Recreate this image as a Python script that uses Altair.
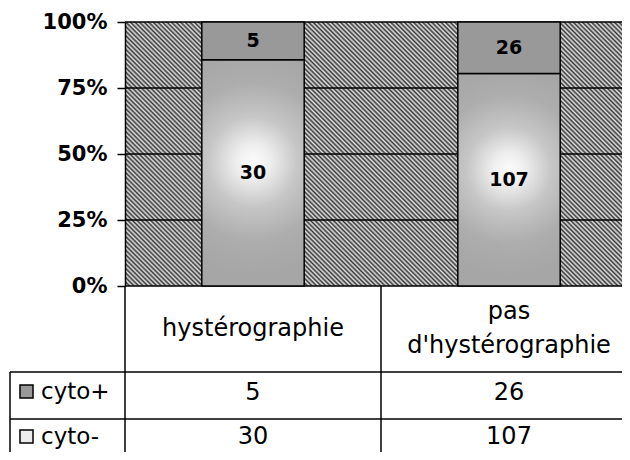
import altair as alt
import pandas as pd

# ---- data ----
categories = ["hystérographie", "pas d'hystérographie"]
header_labels = ["hystérographie", "pas\nd'hystérographie"]
series = ["cyto+", "cyto-"]
cyto_plus = [5, 26]
cyto_minus = [30, 107]
y_ticks = [0, 0.25, 0.5, 0.75, 1]

W, H = 497, 264
XR = 512  # full band range (two equal columns, right one runs off the edge)
FONT = "DejaVu Sans"

rows = []
for i, c in enumerate(categories):
    rows.append({"cat": c, "series": "cyto-", "value": cyto_minus[i], "order": 0})
    rows.append({"cat": c, "series": "cyto+", "value": cyto_plus[i], "order": 1})
df = pd.DataFrame(rows)

# header text, one row per printed line, centred in the header row
Y_HDR_MID = -43 / H
LINE = 34 / H
hdr_rows = []
for c, lab in zip(categories, header_labels):
    parts = lab.split("\n")
    n = len(parts)
    for j, p in enumerate(parts):
        hdr_rows.append({"cat": c, "line": p, "yl": Y_HDR_MID + ((n - 1) / 2 - j) * LINE})
hdr = pd.DataFrame(hdr_rows)
cats = pd.DataFrame({"cat": categories})
ticks = pd.DataFrame({"t": y_ticks})
one = pd.DataFrame({"a": [0]})

xscale = alt.Scale(domain=categories, range=[0, XR], paddingInner=0, paddingOuter=0)
yscale = alt.Scale(domain=[0, 1], nice=False, zero=False)

# hatch: dense diagonal stripes as a linear gradient
N = 170
stops = []
for i in range(N):
    stops.append(alt.GradientStop(color="#363636", offset=i / N))
    stops.append(alt.GradientStop(color="#e4e4e4", offset=(i + 0.5) / N))
stops.append(alt.GradientStop(color="#363636", offset=1.0))
k2 = H / XR
L = (1 + k2) / (1 + k2 * k2)
hatch_grad = alt.LinearGradient(gradient="linear", stops=stops,
                                x1=0, y1=1, x2=L, y2=1 - k2 * L)

glow = alt.RadialGradient(
    gradient="radial",
    stops=[
        alt.GradientStop(color="#fcfcfc", offset=0),
        alt.GradientStop(color="#eeeeee", offset=0.15),
        alt.GradientStop(color="#c6c6c6", offset=0.4),
        alt.GradientStop(color="#adadad", offset=0.7),
        alt.GradientStop(color="#a6a6a6", offset=1),
    ],
    x1=0.5, y1=0.45, r1=0, x2=0.5, y2=0.45, r2=0.5,
)

hatch = alt.Chart(one).mark_rect(fill=hatch_grad).encode(
    x=alt.value(0), x2=alt.value(XR),
    y=alt.Y(datum=1, scale=yscale), y2=alt.datum(0),
)

grid = alt.Chart(ticks).mark_rule(color="black", strokeWidth=1.5).encode(
    x=alt.value(0), x2=alt.value(XR),
    y=alt.Y("t:Q", scale=yscale, axis=alt.Axis(
        values=y_ticks, format="%", labelFont=FONT, labelFontWeight="bold",
        labelFontSize=21, labelColor="black", tickColor="black", tickSize=8,
        tickWidth=1.5, domainColor="black", domainWidth=1.5, grid=False,
        title=None, labelPadding=10, zindex=1)),
)

base = alt.Chart(df).transform_joinaggregate(
    total="sum(value)", groupby=["cat"]
).transform_calculate(
    frac="datum.value / datum.total"
).transform_stack(
    stack="frac", groupby=["cat"], as_=["y0", "y1"],
    sort=[alt.SortField("order", order="ascending")]
).transform_calculate(
    ymid="(datum.y0 + datum.y1) / 2"
)

xenc = alt.X("cat:N", scale=xscale, axis=None, sort=categories)

bars_minus = base.transform_filter(alt.datum.series == "cyto-").mark_bar(
    fill=glow, stroke="black", strokeWidth=1.5, width=alt.RelativeBandSize(0.4)
).encode(x=xenc, y=alt.Y("y1:Q", scale=yscale), y2="y0:Q")

bars_plus = base.transform_filter(alt.datum.series == "cyto+").mark_bar(
    stroke="black", strokeWidth=1.5, width=alt.RelativeBandSize(0.4)
).encode(
    x=xenc, y=alt.Y("y1:Q", scale=yscale), y2="y0:Q",
    color=alt.Color("series:N", scale=alt.Scale(domain=series, range=["#999999", "#ececec"]),
                    legend=alt.Legend(orient="none", legendX=-110, legendY=358, title=None,
                                      symbolType="square", symbolSize=170,
                                      symbolStrokeColor="black", symbolStrokeWidth=1.5,
                                      labelFont=FONT, labelFontSize=23, labelColor="black",
                                      rowPadding=21, labelOffset=3, padding=0)),
)

bar_labels = base.mark_text(font=FONT, fontWeight="bold", fontSize=19, color="black").encode(
    x=xenc, y=alt.Y("ymid:Q", scale=yscale), text="value:Q"
)

# table
Y_HDR_BOT = -86 / H
Y_ROW1_BOT = -133 / H
Y_BOTTOM = -185 / H
Y_ROW1_MID = -107 / H
Y_ROW2_MID = -151 / H

hlines = alt.Chart(pd.DataFrame({"y": [Y_HDR_BOT, Y_ROW1_BOT]})).mark_rule(
    color="black", strokeWidth=1.5).encode(
    x=alt.value(-115), x2=alt.value(XR), y=alt.Y("y:Q", scale=yscale))

vlines = alt.Chart(cats).mark_rule(color="black", strokeWidth=1.5).encode(
    x=alt.X("cat:N", scale=xscale, axis=None, sort=categories, bandPosition=0),
    y=alt.datum(0), y2=alt.datum(Y_BOTTOM))

leftline = alt.Chart(one).mark_rule(color="black", strokeWidth=1.5).encode(
    x=alt.value(-115), y=alt.datum(Y_HDR_BOT), y2=alt.datum(Y_BOTTOM))

hdr_text = alt.Chart(hdr).mark_text(font=FONT, fontSize=24, color="black").encode(
    x=xenc, y=alt.Y("yl:Q", scale=yscale), text="line:N")

plus_text = alt.Chart(df[df.series == "cyto+"]).mark_text(font=FONT, fontSize=24, color="black").encode(
    x=xenc, y=alt.datum(Y_ROW1_MID), text="value:Q")
minus_text = alt.Chart(df[df.series == "cyto-"]).mark_text(font=FONT, fontSize=24, color="black").encode(
    x=xenc, y=alt.datum(Y_ROW2_MID), text="value:Q")

chart = alt.layer(
    hatch, grid, bars_minus, bars_plus, bar_labels,
    hlines, vlines, leftline, hdr_text, plus_text, minus_text
).properties(
    width=W, height=H,
    autosize=alt.AutoSizeParams(type="none"),
    padding={"left": 117, "top": 14, "right": 0, "bottom": 166},
    background="white",
).configure_view(stroke=None)

chart.save("out.html", embed_options={"renderer": "svg", "actions": False})
